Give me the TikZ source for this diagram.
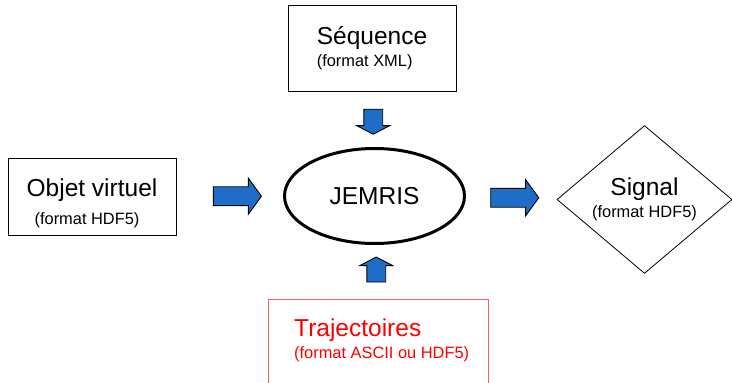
\documentclass[tikz,border=0pt]{standalone}
\usepackage{fontspec}
\setmainfont{Liberation Sans}
\usepackage{xcolor}
\usetikzlibrary{shapes.geometric, shapes.arrows, positioning, calc}

\definecolor{bleufleche}{RGB}{30,110,200}
\definecolor{rougecadre}{RGB}{235,95,105}
\newcommand{\petit}{\fontsize{16.4}{20}\selectfont}

\tikzset{
  cadre/.style={draw=black, line width=1pt, rectangle, inner sep=0pt, align=left, font=\fontsize{24.5}{22}\selectfont},
  fleche/.style={single arrow, draw=black, fill=bleufleche, line width=0.9pt, inner sep=0pt, inner ysep=9pt},
  flechehoriz/.style={fleche, minimum height=48pt, single arrow head extend=8.5pt, single arrow tip angle=108},
  flecheverti/.style={fleche, minimum height=25pt, single arrow head extend=7pt, single arrow tip angle=125}
}

\begin{document}
\begin{tikzpicture}[x=1pt,y=-1pt]
\clip (0,0) rectangle (732,383); %taille de l'image
\node[cadre, minimum width=168pt, minimum height=86pt] (sequence) at (372,48)
{Séquence\\\petit (format XML)};
\node[cadre, minimum width=168pt, minimum height=77pt] (objet) at (92,196.5)
{\rule{0pt}{32pt}Objet virtuel\\[6pt]\hspace*{8pt}\petit (format HDF5)};
\node[ellipse, draw=black, line width=3pt, minimum width=180pt, minimum height=95pt, font=\fontsize{24.5}{22}\selectfont] (jemris) at (374.5,196) {JEMRIS};
\node[diamond, draw=black, line width=0.8pt, inner sep=0pt, minimum width=175pt, minimum height=145pt, align=center, font=\fontsize{24.5}{22}\selectfont] (signal) at (644.5,199.5)
{Signal\\\petit (format HDF5)};
\node[rectangle, draw=rougecadre, line width=1pt, minimum width=220pt, minimum height=100pt, anchor=north] (traj) at (378,299) {};
\node[text=red, inner sep=0pt, align=left, anchor=north west, font=\fontsize{24.5}{22}\selectfont] (trajtexte) at (294,319)
{Trajectoires\\\petit (format ASCII ou HDF5)};
% les fleches
\node[flechehoriz] (f1) at ($(objet.east)!0.54!(jemris.west)$) {};
\node[flechehoriz] (f2) at ($(jemris.east)!0.5!(signal.west)$) {};
\node[flecheverti, rotate=-90] (f3) at ($(sequence.south)!0.5!(jemris.north)$) {};
\node[flecheverti, rotate=90] (f4) at ($(jemris.south)!0.5!(traj.north)$) {};
\end{tikzpicture}
\end{document}
